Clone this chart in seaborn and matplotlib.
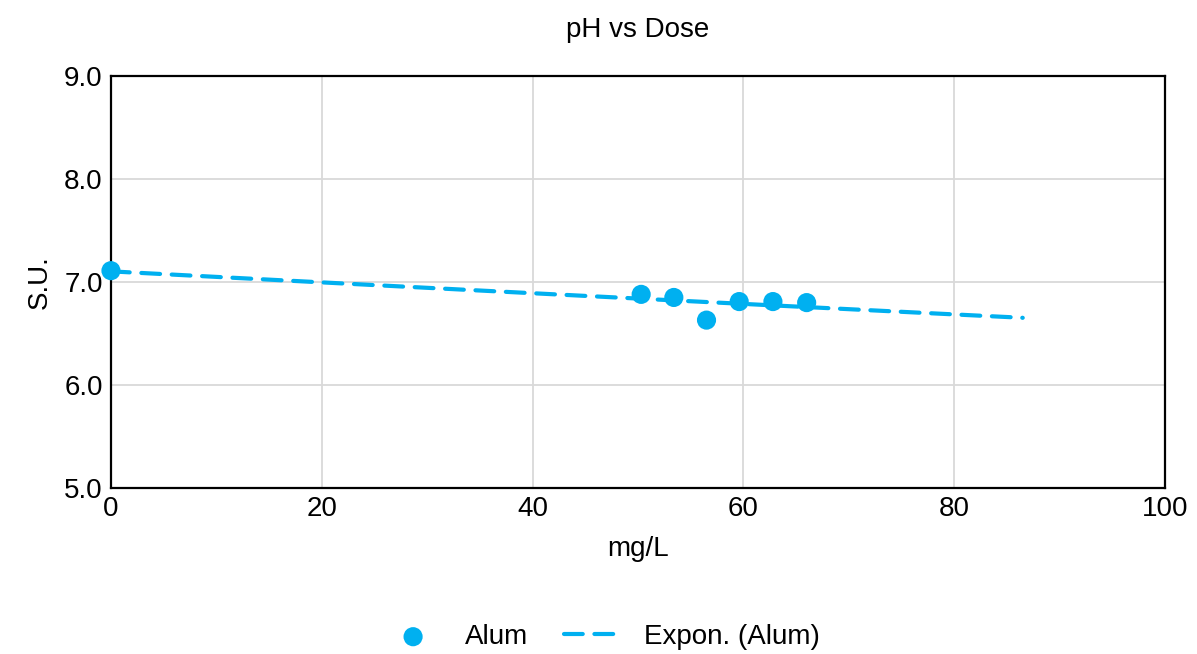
import numpy as np
import pandas as pd
import matplotlib
matplotlib.use("Agg")
import matplotlib.pyplot as plt
import seaborn as sns

dose = [0.0, 50.3, 53.4, 56.5, 59.6, 62.8, 66.0]
ph = [7.11, 6.88, 6.85, 6.63, 6.81, 6.81, 6.80]
forecast_forward = 20.5

sns.set_theme(style="white")
plt.rcParams['font.family'] = ['Liberation Sans', 'DejaVu Sans']
plt.rcParams['text.color'] = 'black'
plt.rcParams['axes.labelcolor'] = 'black'
plt.rcParams['xtick.color'] = 'black'
plt.rcParams['ytick.color'] = 'black'

df = pd.DataFrame({"mg/L": dose, "S.U.": ph})

# exponential trendline (like Excel), fitted on ln(y)
b, a = np.polyfit(df["mg/L"], np.log(df["S.U."]), 1)
xt = np.linspace(0, max(dose) + forecast_forward, 50)
trend = pd.DataFrame({"mg/L": xt, "S.U.": np.exp(a) * np.exp(b * xt)})

color = "#00B0F0"
fs = 20
fig = plt.figure(figsize=(11.97, 6.54), dpi=100)
ax = fig.add_axes([0.0927, 0.2538, 0.8806, 0.63])

sns.lineplot(data=trend, x="mg/L", y="S.U.", ax=ax, color=color, lw=3,
             label="Expon. (Alum)", zorder=3)
ax.lines[-1].set_dashes((4.5, 2.8))
ax.lines[-1].set_dash_capstyle("round")
sns.scatterplot(data=df, x="mg/L", y="S.U.", ax=ax, color=color, s=190,
                edgecolor="none", label="Alum", zorder=4, clip_on=False)

ax.set_xlim(0, 100)
ax.set_ylim(5, 9)
ax.set_xticks(range(0, 101, 20))
ax.set_yticks([5, 6, 7, 8, 9])
ax.set_yticklabels([f"{v:.1f}" for v in [5, 6, 7, 8, 9]])
ax.tick_params(labelsize=fs, length=0, pad=6)
ax.grid(True, color="#d9d9d9", lw=1.3)
for s in ax.spines.values():
    s.set_color("black")
    s.set_linewidth(1.6)

ax.set_title("pH vs Dose", fontsize=fs, pad=28)
ax.set_xlabel("mg/L", fontsize=fs, labelpad=10)
ax.set_ylabel("S.U.", fontsize=fs, labelpad=8)

h, l = ax.get_legend_handles_labels()
order = [l.index("Alum"), l.index("Expon. (Alum)")]
ax.legend([h[i] for i in order], [l[i] for i in order], loc="center",
          bbox_to_anchor=(0.503, 0.026), bbox_transform=fig.transFigure,
          ncol=2, frameon=False, fontsize=fs, handlelength=2.1,
          columnspacing=1.3, handletextpad=0.8)

fig.savefig("out.png", dpi=100)
